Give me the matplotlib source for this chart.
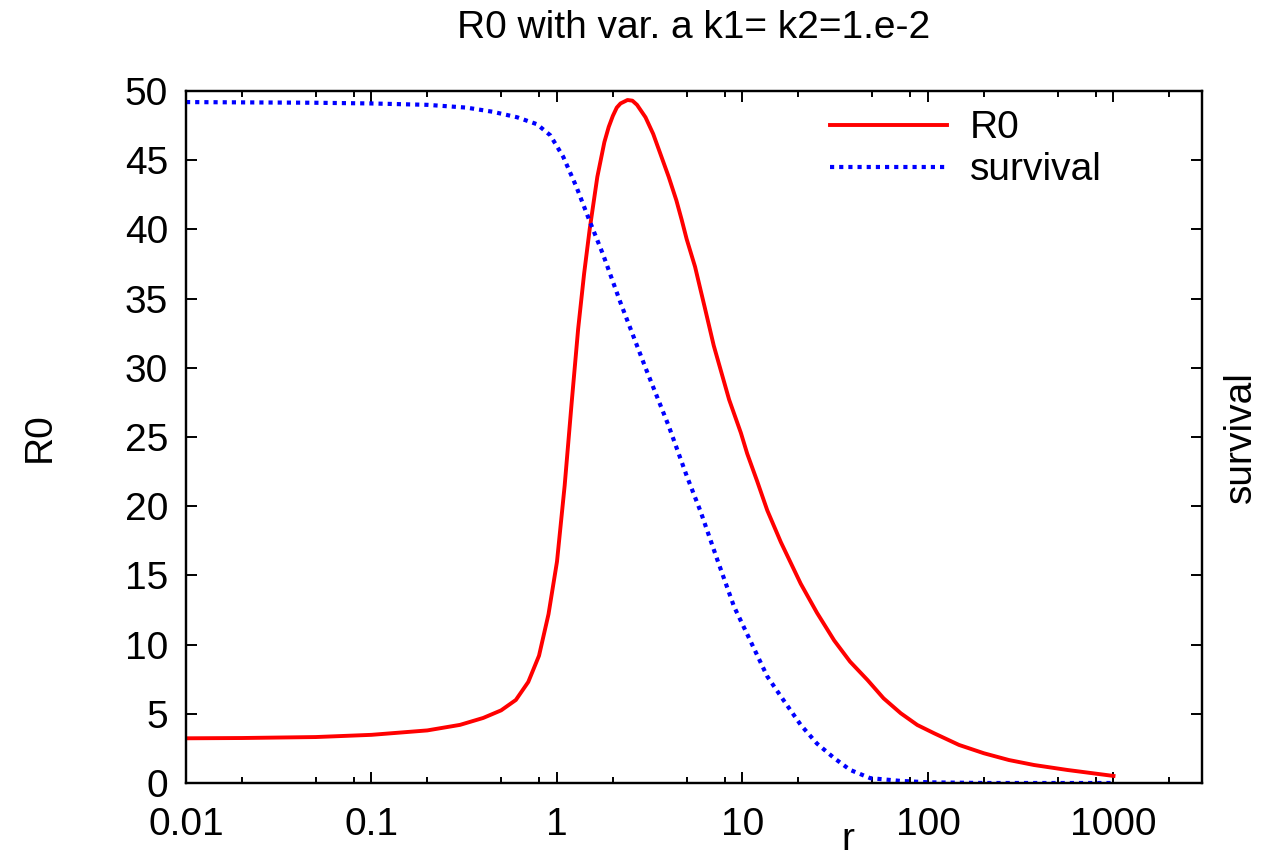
import matplotlib
matplotlib.use("Agg")
import matplotlib.pyplot as plt
import numpy as np
from matplotlib.ticker import LogLocator, NullFormatter

plt.rcParams["font.family"] = ["Liberation Sans", "DejaVu Sans"]

# R0 curve
r_R0 = [0.01, 0.02, 0.05, 0.1, 0.2, 0.3, 0.4, 0.5, 0.6, 0.7, 0.8, 0.9, 1.0, 1.1,
        1.2, 1.3, 1.4, 1.5, 1.65, 1.8, 1.9, 2.0, 2.1, 2.2, 2.4, 2.55, 2.7, 3.0, 3.3,
        3.6, 4.0, 4.4, 4.7, 5.0, 5.55, 5.9, 6.25, 7.0, 8.47, 9.8, 10.6, 12.0, 13.6,
        16.1, 20.6, 25.2, 31.2, 38.0, 47.2, 57.6, 71.3, 87.6, 108, 147, 200, 273,
        373, 565, 1000]
R0 = [3.23, 3.25, 3.32, 3.48, 3.8, 4.2, 4.7, 5.25, 6.0, 7.3, 9.2, 12.2, 16.0, 21.5,
      27.5, 32.8, 36.8, 40.0, 43.8, 46.3, 47.4, 48.2, 48.8, 49.1, 49.35, 49.3, 49.0, 48.1, 46.9,
      45.5, 43.8, 42.1, 40.7, 39.3, 37.3, 35.8, 34.4, 31.6, 27.7, 25.3, 23.8, 21.8, 19.7,
      17.4, 14.4, 12.3, 10.3, 8.77, 7.44, 6.12, 5.04, 4.19, 3.59, 2.75, 2.15, 1.66,
      1.30, 0.94, 0.51]

# survival curve (fraction, right axis)
r_surv = [0.01, 0.05, 0.1, 0.2, 0.325, 0.45, 0.61, 0.78, 0.92, 1.08, 1.27, 1.5,
          1.77, 2.2, 3.0, 4.0, 5.0, 5.95, 7.33, 9.0, 11.0, 13.6, 16.6, 20.6,
          25.2, 31.2, 38.0, 48.8, 71.3, 100, 200, 1000]
survival = [0.984, 0.983, 0.982, 0.980, 0.976, 0.970, 0.962, 0.952, 0.936, 0.905, 0.862, 0.812,
            0.764, 0.694, 0.600, 0.516, 0.444, 0.392, 0.322, 0.255, 0.206, 0.154, 0.120, 0.084,
            0.057, 0.036, 0.019, 0.007, 0.003, 0.001, 0.0, 0.0]

xticks = [0.01, 0.1, 1, 10, 100, 1000]
xticklabels = ['0.01', '0.1', '1', '10', '100', '1000']
yticks = [0, 5, 10, 15, 20, 25, 30, 35, 40, 45, 50]

fs = 28

fig = plt.figure(figsize=(12.63, 8.6), dpi=100)
ax = fig.add_axes([186 / 1263, 77 / 860, 1016 / 1263, 692 / 860])
ax2 = ax.twinx()

l1, = ax.plot(r_R0, R0, color='red', lw=2.8, label='R0')
l2, = ax2.plot(r_surv, survival, color='blue', lw=3, dash_capstyle='butt',
               linestyle=(0, (1, 1.2)), label='survival')

ax.set_xscale('log')
ax.set_xlim(0.01, 3000)
ax.set_ylim(0, 50)
ax2.set_ylim(0, 1)

ax.set_xticks(xticks, xticklabels)
ax.xaxis.set_minor_locator(LogLocator(base=10, subs=[2, 5, 8], numticks=20))
ax.xaxis.set_minor_formatter(NullFormatter())
ax.set_yticks(yticks)
ax2.set_yticks(np.array(yticks) / 50)
ax2.set_yticklabels([])

ax.tick_params(which='major', direction='in', length=8, width=1.4, labelsize=fs,
               top=True, right=False, pad=13)
ax.tick_params(axis='x', which='major', pad=17)
ax.tick_params(which='minor', direction='in', length=4.5, width=1.4, top=True)
ax2.tick_params(direction='in', length=8, width=1.4)
for a in (ax, ax2):
    for s in a.spines.values():
        s.set_linewidth(1.6)

ax.set_title('R0 with var. a k1= k2=1.e-2', fontsize=fs, pad=38)
ax.set_ylabel('R0', fontsize=fs)
ax.yaxis.set_label_coords(-0.126, 0.5)
ax2.set_ylabel('survival', fontsize=fs)
ax2.yaxis.set_label_coords(1.021, 0.5)
ax.set_xlabel('r', fontsize=fs)
ax.xaxis.set_label_coords(0.6516, -0.057)

ax2.legend(handles=[l1, l2], loc='upper left', bbox_to_anchor=(0.634, 0.972),
           frameon=False, fontsize=fs, handlelength=3.0, handletextpad=0.6,
           borderpad=0, borderaxespad=0, labelspacing=0.15)

fig.savefig('out.png', dpi=100)
